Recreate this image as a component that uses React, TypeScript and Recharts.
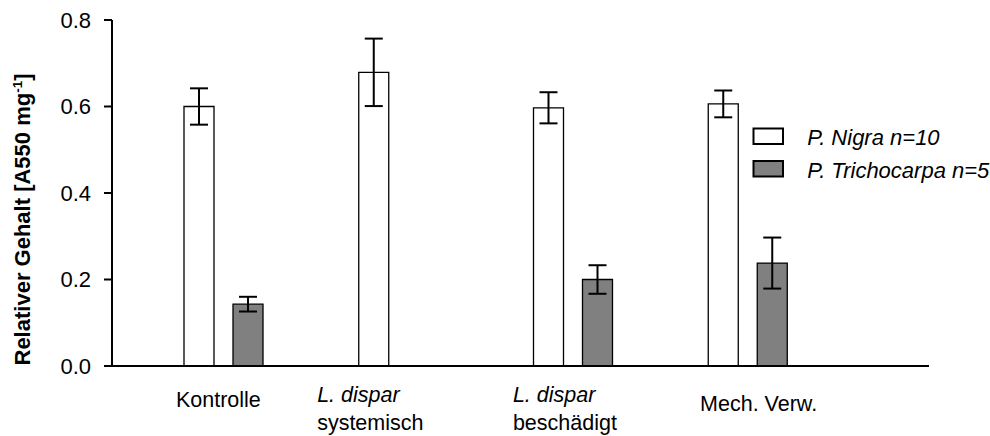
import React from 'react';
import { BarChart, Bar, XAxis, YAxis, ErrorBar, Legend } from 'recharts';

// ---- data ----
const categories = ['Kontrolle', 'L. dispar systemisch', 'L. dispar beschädigt', 'Mech. Verw.'];
const labelLine1 = ['Kontrolle', 'L. dispar', 'L. dispar', 'Mech. Verw.'];
const labelLine2 = ['', 'systemisch', 'beschädigt', ''];
const nigraValues = [0.6, 0.679, 0.597, 0.606];
const nigraErrors = [0.042, 0.078, 0.036, 0.031];
const trichoValues: (number | null)[] = [0.143, null, 0.2, 0.238];
const trichoErrors: (number | null)[] = [0.017, null, 0.033, 0.059];
const yTicks = [0, 0.2, 0.4, 0.6, 0.8];
const seriesNames = ['P. Nigra n=10', 'P. Trichocarpa n=5'];

// ---- style / layout ----
const FONT = '"Liberation Sans", Arial, Helvetica, sans-serif';
const FILLS = ['#ffffff', '#808080'];
const LABEL_LAYOUT = [
  { dx: -5, anchor: 'middle', y1: 40.7, italic: false },
  { dx: -81, anchor: 'start', y1: 36, italic: true },
  { dx: -60, anchor: 'start', y1: 36, italic: true },
  { dx: 11, anchor: 'middle', y1: 45, italic: false },
];
const LINE2_OFFSET = 27.5;
const XFONT = 21.5;

const data = categories.map((c, i) => ({
  cat: c,
  nigra: nigraValues[i],
  nigraErr: nigraErrors[i],
  tricho: trichoValues[i],
  trichoErr: trichoErrors[i],
}));

const XTick = (props: any) => {
  const { x, y, payload } = props;
  const i = categories.indexOf(payload.value);
  const l = LABEL_LAYOUT[i];
  return (
    <g>
      <text
        x={x + l.dx}
        y={y + l.y1}
        textAnchor={l.anchor}
        fontFamily={FONT}
        fontSize={XFONT}
        fontStyle={l.italic ? 'italic' : 'normal'}
        fill="#000"
      >
        {labelLine1[i]}
      </text>
      {labelLine2[i] ? (
        <text
          x={x + l.dx}
          y={y + l.y1 + LINE2_OFFSET}
          textAnchor={l.anchor}
          fontFamily={FONT}
          fontSize={XFONT}
          fill="#000"
        >
          {labelLine2[i]}
        </text>
      ) : null}
    </g>
  );
};

const YLabel = () => (
  <text
    x={30}
    y={219.5}
    transform="rotate(-90, 30, 219.5)"
    textAnchor="middle"
    fontFamily={FONT}
    fontSize={22}
    fontWeight="bold"
    fill="#000"
  >
    Relativer Gehalt [A550 mg
    <tspan fontSize={13.5} dy={-8.5}>-1</tspan>
    <tspan dy={8.5}>]</tspan>
  </text>
);

const LegendContent = (props: any) => {
  const payload = props.payload || [];
  return (
    <svg width={240} height={60} style={{ display: 'block', overflow: 'visible' }}>
      {payload.map((p: any, i: number) => (
        <g key={i}>
          <rect
            x={1.5}
            y={1.5 + i * 32.5}
            width={29.5}
            height={15.5}
            fill={FILLS[seriesNames.indexOf(p.value)]}
            stroke="#000"
            strokeWidth={2}
          />
          <text
            x={55.3}
            y={18 + i * 32.5}
            fontFamily={FONT}
            fontSize={22}
            fontStyle="italic"
            fill="#000"
          >
            {p.value}
          </text>
        </g>
      ))}
    </svg>
  );
};

export default function App() {
  return (
    <div style={{ position: 'absolute', left: 0, top: 0, background: '#fff' }}>
      <BarChart
        width={990}
        height={436}
        data={data}
        margin={{ top: 20, right: 61, bottom: 0, left: 0 }}
        barSize={30}
        barGap={19}
      >
        <XAxis
          dataKey="cat"
          type="category"
          height={70}
          padding={{ left: 24, right: 94 }}
          axisLine={{ stroke: '#000', strokeWidth: 2 }}
          tickLine={false}
          tickSize={0}
          tickMargin={0}
          interval={0}
          tick={<XTick />}
        />
        <YAxis
          width={112}
          domain={[0, 0.8]}
          ticks={yTicks}
          tickFormatter={(v: number) => v.toFixed(1)}
          axisLine={{ stroke: '#000', strokeWidth: 2 }}
          tickLine={{ stroke: '#000', strokeWidth: 2 }}
          tickSize={8}
          tickMargin={13}
          tick={{ fontFamily: FONT, fontSize: 22, fill: '#000' }}
          label={<YLabel />}
        />
        <Legend
          layout="vertical"
          align="center"
          verticalAlign="middle"
          wrapperStyle={{ left: 752, top: 127, width: 240 }}
          content={<LegendContent />}
        />
        <Bar
          dataKey="nigra"
          name={seriesNames[0]}
          fill={FILLS[0]}
          stroke="#000"
          strokeWidth={1.3}
          isAnimationActive={false}
        >
          <ErrorBar dataKey="nigraErr" width={9} stroke="#000" strokeWidth={2} direction="y" />
        </Bar>
        <Bar
          dataKey="tricho"
          name={seriesNames[1]}
          fill={FILLS[1]}
          stroke="#000"
          strokeWidth={1.3}
          isAnimationActive={false}
        >
          <ErrorBar dataKey="trichoErr" width={9} stroke="#000" strokeWidth={2} direction="y" />
        </Bar>
      </BarChart>
    </div>
  );
}
